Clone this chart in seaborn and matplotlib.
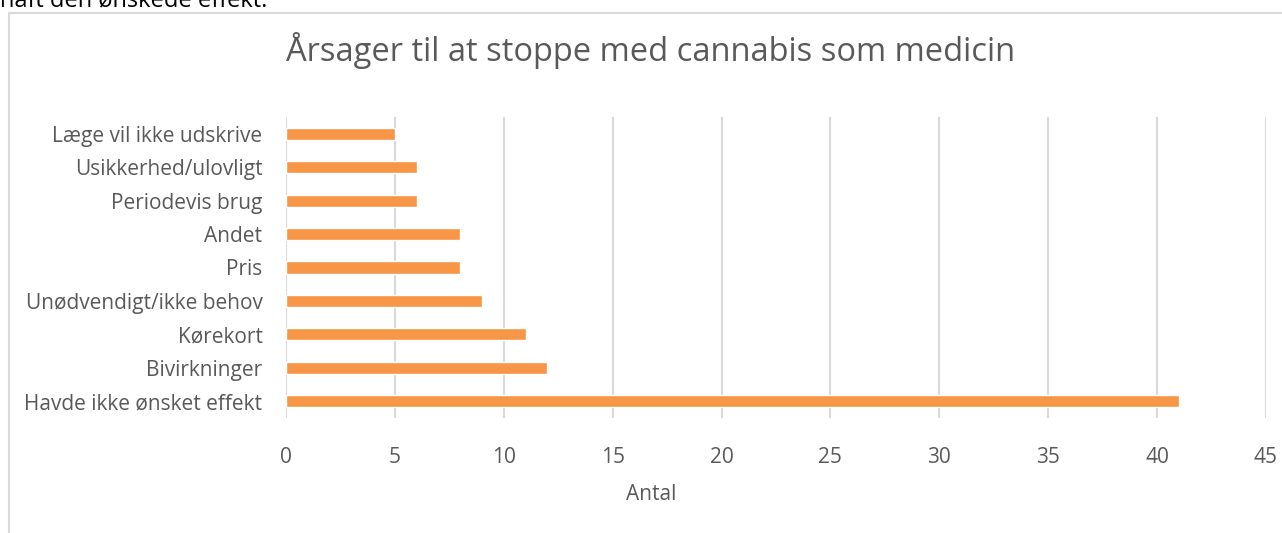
import matplotlib
matplotlib.use("Agg")
import matplotlib.pyplot as plt
import seaborn as sns
import pandas as pd
from matplotlib.lines import Line2D

# data (top to bottom as shown)
aarsager = ['Læge vil ikke udskrive', 'Usikkerhed/ulovligt', 'Periodevis brug',
            'Andet', 'Pris', 'Unødvendigt/ikke behov', 'Kørekort',
            'Bivirkninger', 'Havde ikke ønsket effekt']
antal = [5, 6, 6, 8, 8, 9, 11, 12, 41]
xticks = [0, 5, 10, 15, 20, 25, 30, 35, 40, 45]

df = pd.DataFrame({'aarsag': aarsager, 'antal': antal})

sns.set_theme(style='white')
plt.rcParams['font.family'] = ['Open Sans', 'DejaVu Sans']

grey = '#595959'
grid = '#D9D9D9'

fig = plt.figure(figsize=(12.82, 5.33), dpi=100)
ax = fig.add_axes([0.2231, 0.2158, 0.9875 - 0.2231, 0.7805 - 0.2158])

sns.barplot(data=df, x='antal', y='aarsag', orient='h', color='#F79646',
            saturation=1, width=0.36, ax=ax)

ax.set_xlim(0, 45)
ax.set_xticks(xticks)
ax.set_ylim(len(aarsager) - 0.5, -0.5)
ax.xaxis.grid(True, color=grid, linewidth=1.5)
ax.set_axisbelow(True)
for s in ax.spines.values():
    s.set_visible(False)
ax.tick_params(axis='both', length=0, colors=grey, labelsize=15)
ax.tick_params(axis='x', pad=21)
ax.tick_params(axis='y', pad=17)
ax.set_xlabel('')
ax.set_ylabel('')

# axis title is centred on the chart area, not the plot area
fig.text(651 / 1282, 1 - 495 / 533, 'Antal', ha='center', va='center',
         fontsize=15, color=grey)

fig.text(651 / 1282, 0.905, 'Årsager til at stoppe med cannabis som medicin',
         ha='center', va='center', fontsize=23.5, color=grey)

# chart frame (partly cut off)
fig.add_artist(Line2D([9 / 1282, 9 / 1282], [0, 1 - 13 / 533], color=grid, linewidth=1.5))
fig.add_artist(Line2D([9 / 1282, 1], [1 - 13 / 533, 1 - 13 / 533], color=grid, linewidth=1.5))

# cropped surrounding text
fig.text(0.0, 1 - 6 / 533, 'haft den ønskede effekt.', ha='left', va='baseline',
         fontsize=17, color='black')

fig.savefig('out.png', dpi=100)
